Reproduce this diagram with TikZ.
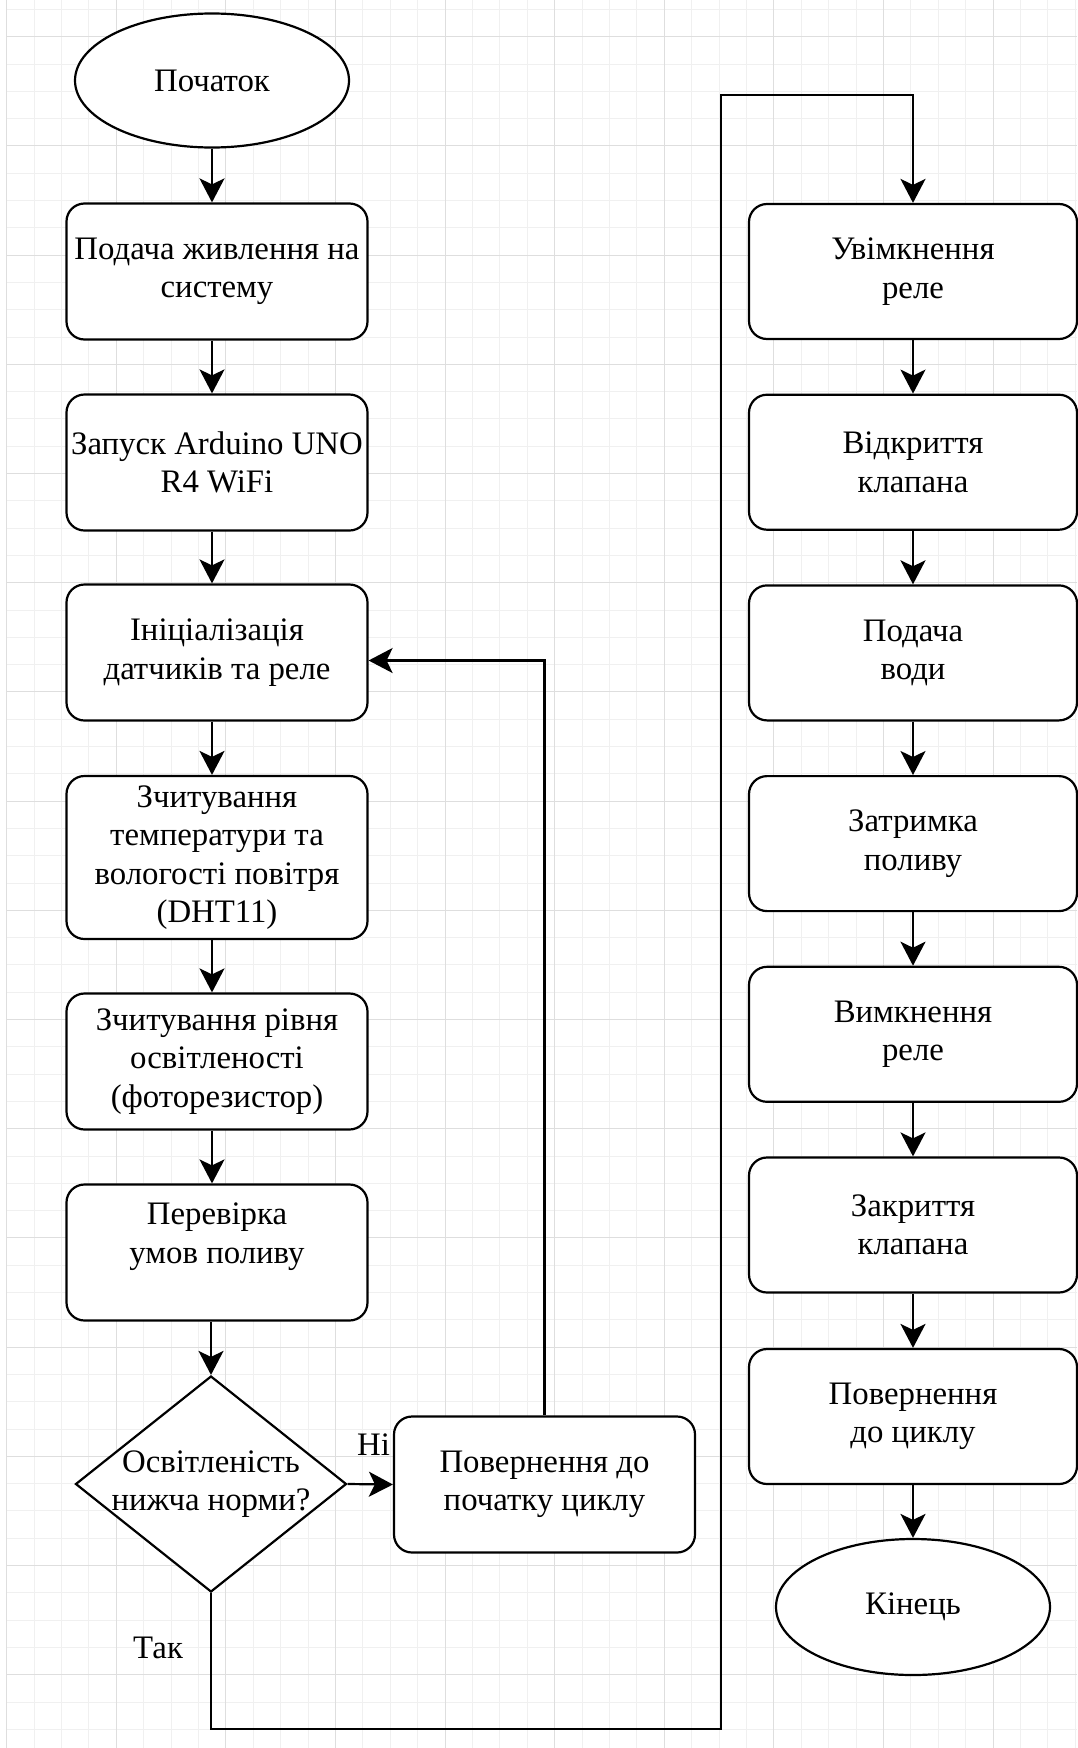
\documentclass[tikz,border=0pt]{standalone}
\usepackage{fontspec}
\setmainfont{Liberation Serif}
\usetikzlibrary{shapes.geometric,arrows.meta,calc}
\newcommand\chartfont{\fontsize{32.8}{38.5}\selectfont}
\begin{document}
\begin{tikzpicture}[x=1pt,y=-1pt,
  gridminor/.style={line width=1pt, draw=black!6},
  gridmajor/.style={line width=1pt, draw=black!13},
  shapeline/.style={draw=black, line width=2.2pt, fill=white},
  stepbox/.style={shapeline, rectangle, rounded corners=18pt, align=center, inner sep=0pt, font=\chartfont},
  leftbox/.style={stepbox, minimum width=301pt, minimum height=136pt},
  rightbox/.style={stepbox, minimum width=328pt, minimum height=135pt},
  terminal/.style={shapeline, ellipse, minimum width=274pt, minimum height=134pt, inner sep=0pt, font=\chartfont},
  decision/.style={shapeline, diamond, minimum width=271pt, minimum height=216pt, inner sep=0pt},
  lbl/.style={font=\chartfont, inner sep=0pt},
  arr/.style={line width=2.2pt, -{Stealth[length=24pt, width=25pt, inset=6pt]}}
]
\fill[white] (0,0) rectangle (1077,1748);
\useasboundingbox (0,0) rectangle (1077,1748);
% grid
\foreach \i in {0,...,39} \draw[gridminor] ({6.6+27.4*\i},0) -- ++(0,1748);
\foreach \j in {0,...,63} \draw[gridminor] (6.6,{9.4+27.3*\j}) -- (1077,{9.4+27.3*\j});
\foreach \i in {0,...,9} \draw[gridmajor] ({6.6+109.6*\i},0) -- ++(0,1748);
\foreach \j in {0,...,15} \draw[gridmajor] (6.6,{36.7+109.2*\j}) -- (1077,{36.7+109.2*\j});

% left column
\node[terminal] (start) at (212,80.5) {Початок};
\node[leftbox] (b1) at (217,271.5) {Подача живлення на\\систему};
\node[leftbox] (b2) at (217,462.5) {Запуск Arduino UNO\\R4 WiFi};
\node[leftbox] (b3) at (217,652.5) {Ініціалізація\\датчиків та реле};
\node[leftbox, minimum height=163pt] (b4) at (217,857.5) {Зчитування\\температури та\\вологості повітря\\(DHT11)};
\node[leftbox] (b5) at (217,1061.5) {Зчитування рівня\\освітленості\\(фоторезистор)};
\node[leftbox] (b6) at (217,1252.5) {Перевірка\\умов поливу\\~};
\node[decision, label={[lbl, align=center]center:{Освітленість\\нижча норми?}}] (dec) at (211,1484) {};
\node[leftbox] (ret) at (544.5,1484.5) {Повернення до\\початку циклу};

% right column
\node[rightbox] (r1) at (913,271.5) {Увімкнення\\реле};
\node[rightbox] (r2) at (913,462.2) {Відкриття\\клапана};
\node[rightbox] (r3) at (913,652.9) {Подача\\води};
\node[rightbox] (r4) at (913,843.6) {Затримка\\поливу};
\node[rightbox] (r5) at (913,1034.3) {Вимкнення\\реле};
\node[rightbox] (r6) at (913,1225) {Закриття\\клапана};
\node[rightbox] (r7) at (913,1416.5) {Повернення\\до циклу};
\node[terminal, minimum height=136pt] (end) at (913,1607) {Кінець};

% labels
\node[lbl, anchor=base west] (ni) at (357,1455) {Ні};
\node[lbl, anchor=base west] (tak) at (133,1658) {Так};

% connectors
\draw[arr] (start.south) -- (start.south |- b1.north);
\draw[arr] (b1.south -| start.south) -- (b2.north -| start.south);
\draw[arr] (b2.south -| start.south) -- (b3.north -| start.south);
\draw[arr] (b3.south -| start.south) -- (b4.north -| start.south);
\draw[arr] (b4.south -| start.south) -- (b5.north -| start.south);
\draw[arr] (b5.south -| start.south) -- (b6.north -| start.south);
\draw[arr] (b6.south -| dec.north) -- (dec.north);
\draw[arr] (dec.east) -- (ret.west);
\draw[arr] (ret.north) |- ([yshift=-8pt]b3.east);
\coordinate (low) at (721,1729);
\coordinate (high) at (721,95);
\draw[arr] (dec.south) |- (low) -- (high) -| (r1.north);
\draw[arr] (r1.south) -- (r2.north);
\draw[arr] (r2.south) -- (r3.north);
\draw[arr] (r3.south) -- (r4.north);
\draw[arr] (r4.south) -- (r5.north);
\draw[arr] (r5.south) -- (r6.north);
\draw[arr] (r6.south) -- (r7.north);
\draw[arr] (r7.south) -- (end.north);
\end{tikzpicture}
\end{document}
